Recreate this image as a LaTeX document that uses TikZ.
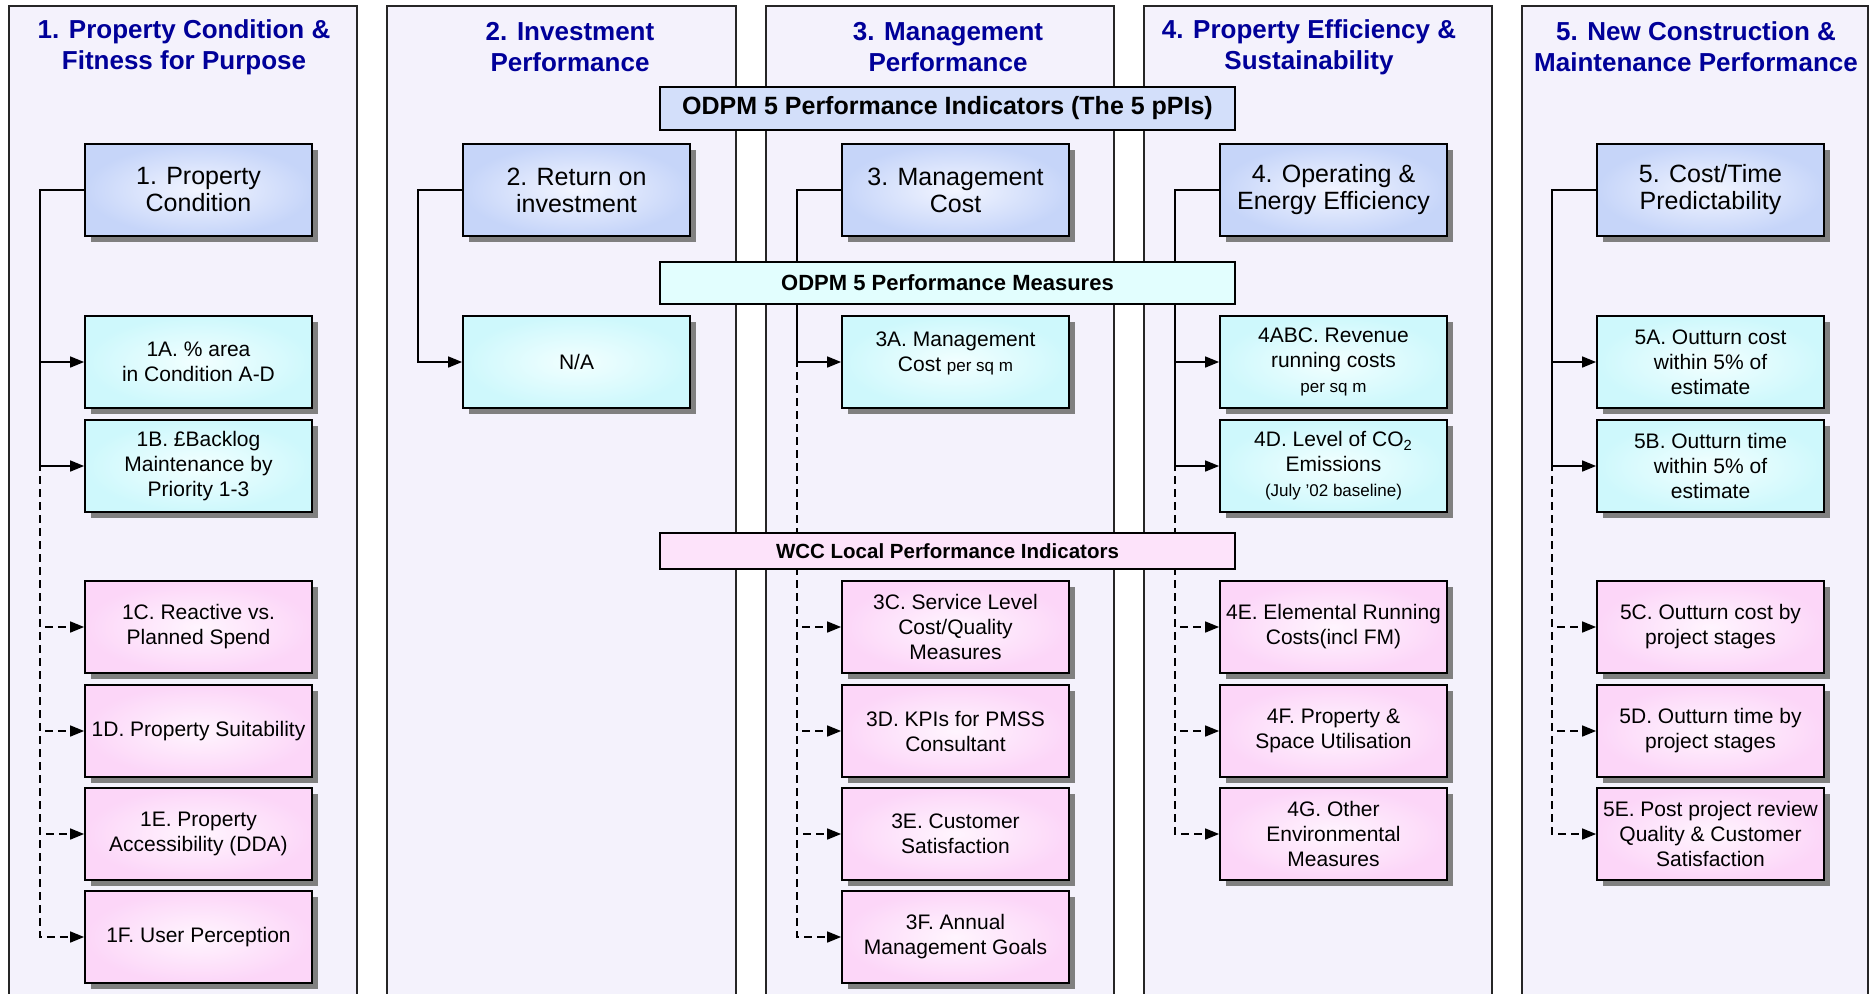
\documentclass[tikz,border=0pt]{standalone}
\usepackage{fontspec}
\setmainfont{Liberation Sans}
\usetikzlibrary{arrows.meta,shadows}
\definecolor{panelfill}{RGB}{244,242,252}
\definecolor{titleblue}{RGB}{0,0,153}
\definecolor{piout}{RGB}{198,213,249}
\definecolor{piin}{RGB}{242,245,255}
\definecolor{measout}{RGB}{206,248,252}
\definecolor{measin}{RGB}{242,255,255}
\definecolor{locout}{RGB}{252,214,248}
\definecolor{locin}{RGB}{255,245,254}
\definecolor{bandpi}{RGB}{211,223,250}
\definecolor{bandmeas}{RGB}{226,254,254}
\definecolor{bandloc}{RGB}{253,227,250}
\tikzset{
  panel/.style={draw=black!85, line width=0.8pt, fill=panelfill},
  paneltitle/.style={text=titleblue, align=center, font=\fontsize{13}{15.5}\selectfont\bfseries},
  kpibox/.style={draw=black, line width=0.9pt, minimum width=113.5pt, minimum height=46pt,
    inner sep=1pt, align=center, font=\fontsize{10.5}{12.5}\selectfont,
    drop shadow={shadow xshift=3pt, shadow yshift=-3pt, fill=black!50, opacity=1}},
  pibox/.style={kpibox, inner color=piin, outer color=piout, font=\fontsize{12.5}{13.5}\selectfont},
  measbox/.style={kpibox, inner color=measin, outer color=measout},
  localbox/.style={kpibox, inner color=locin, outer color=locout},
  bandbox/.style={draw=black, line width=0.8pt, minimum width=287.5pt, inner sep=1pt},
  link/.style={line width=0.8pt, -{Triangle[length=7pt,width=5.5pt]}},
  dlink/.style={link, dash pattern=on 4pt off 2.5pt}
}
\newcommand{\persqm}{\fontsize{8.5}{10}\selectfont}
\begin{document}
\begin{tikzpicture}[x=0.5pt, y=-0.5pt]
      \useasboundingbox (0,0) rectangle (1870,993);
      \clip (0,0) rectangle (1870,993);
      \fill[white] (0,0) rectangle (1870,993);
      \draw[panel] (9,6) rectangle (357,1010);
      \draw[panel] (387,6) rectangle (736,1010);
      \draw[panel] (766,6) rectangle (1114,1010);
      \draw[panel] (1144,6) rectangle (1492,1010);
      \draw[panel] (1522,6) rectangle (1868,1010);
      \node[paneltitle] (t1) at (184,47) {1. Property Condition \&\\Fitness for Purpose};
      \node[paneltitle] (t2) at (570,47) {2. Investment\\Performance};
      \node[paneltitle] (t3) at (948,47) {3. Management\\Performance};
      \node[paneltitle] (t4) at (1309,47) {4. Property Efficiency \&\\Sustainability};
      \node[paneltitle] (t5) at (1696,47) {5. New Construction \&\\Maintenance Performance};

      \node[pibox] (pi1) at (198.5,190) {1. Property\\Condition};
      \node[pibox] (pi2) at (576.5,190) {2. Return on\\investment};
      \node[pibox] (pi3) at (955.5,190) {3. Management\\Cost};
      \node[pibox] (pi4) at (1333.5,190) {4. Operating \&\\Energy Efficiency};
      \node[pibox] (pi5) at (1710.5,190) {5. Cost/Time\\Predictability};

      \node[measbox] (m1a) at (198.5,362) {1A. \% area\\in Condition A-D};
      \node[measbox] (m1b) at (198.5,466) {1B. £Backlog\\Maintenance by\\Priority 1-3};
      \node[measbox] (na2) at (576.5,362) {N/A};
      \node[measbox] (m3a) at (955.5,362) {3A. Management\\Cost {\persqm per sq m}\\[-2pt]};
      \node[measbox] (m4abc) at (1333.5,362) {4ABC. Revenue\\running costs\\{\persqm per sq m}};
      \node[measbox] (m4d) at (1333.5,466) {4D. Level of CO\textsubscript{2}\\Emissions\\{\persqm (July '02 baseline)}};
      \node[measbox] (m5a) at (1710.5,362) {5A. Outturn cost\\within 5\% of\\estimate};
      \node[measbox] (m5b) at (1710.5,466) {5B. Outturn time\\within 5\% of\\estimate};

      \node[localbox] (w1c) at (198.5,627) {1C. Reactive vs.\\Planned Spend};
      \node[localbox] (w1d) at (198.5,731) {1D. Property Suitability};
      \node[localbox] (w1e) at (198.5,834) {1E. Property\\Accessibility (DDA)};
      \node[localbox] (w1f) at (198.5,937) {1F. User Perception};
      \node[localbox] (w3c) at (955.5,627) {3C. Service Level\\Cost/Quality\\Measures};
      \node[localbox] (w3d) at (955.5,731) {3D. KPIs for PMSS\\Consultant};
      \node[localbox] (w3e) at (955.5,834) {3E. Customer\\Satisfaction};
      \node[localbox] (w3f) at (955.5,937) {3F. Annual\\Management Goals};
      \node[localbox] (w4e) at (1333.5,627) {4E. Elemental Running\\Costs(incl FM)};
      \node[localbox] (w4f) at (1333.5,731) {4F. Property \&\\Space Utilisation};
      \node[localbox] (w4g) at (1333.5,834) {4G. Other\\Environmental\\Measures};
      \node[localbox] (w5c) at (1710.5,627) {5C. Outturn cost by\\project stages};
      \node[localbox] (w5d) at (1710.5,731) {5D. Outturn time by\\project stages};
      \node[localbox] (w5e) at (1710.5,834) {5E. Post project review\\Quality \& Customer\\Satisfaction};

      \coordinate (j1) at (40,190);
      \coordinate (j2) at (418,190);
      \coordinate (j3) at (797,190);
      \coordinate (j4) at (1175,190);
      \coordinate (j5) at (1552,190);

      \draw[link] (pi1.west) -- (j1) |- (m1a.west);
      \draw[link] (j1) |- (m1b.west);
      \draw[dlink] (j1) |- (w1c.west);
      \draw[dlink] (j1) |- (w1d.west);
      \draw[dlink] (j1) |- (w1e.west);
      \draw[dlink] (j1) |- (w1f.west);

      \draw[link] (pi2.west) -- (j2) |- (na2.west);

      \draw[link] (pi3.west) -- (j3) |- (m3a.west);
      \draw[dlink] (j3) |- (w3c.west);
      \draw[dlink] (j3) |- (w3d.west);
      \draw[dlink] (j3) |- (w3e.west);
      \draw[dlink] (j3) |- (w3f.west);

      \draw[link] (pi4.west) -- (j4) |- (m4abc.west);
      \draw[link] (j4) |- (m4d.west);
      \draw[dlink] (j4) |- (w4e.west);
      \draw[dlink] (j4) |- (w4f.west);
      \draw[dlink] (j4) |- (w4g.west);

      \draw[link] (pi5.west) -- (j5) |- (m5a.west);
      \draw[link] (j5) |- (m5b.west);
      \draw[dlink] (j5) |- (w5c.west);
      \draw[dlink] (j5) |- (w5d.west);
      \draw[dlink] (j5) |- (w5e.west);

      \node[bandbox, fill=bandpi, minimum height=21.5pt, font=\fontsize{12.5}{14}\selectfont\bfseries] (bpi) at (947.5,108.5) {ODPM 5 Performance Indicators (The 5 pPIs)};
      \node[bandbox, fill=bandmeas, minimum height=21pt, font=\fontsize{11}{13}\selectfont\bfseries] (bmeas) at (947.5,283) {ODPM 5 Performance Measures};
      \node[bandbox, fill=bandloc, minimum height=18pt, font=\fontsize{10.25}{12}\selectfont\bfseries] (bloc) at (947.5,551) {WCC Local Performance Indicators};
\end{tikzpicture}
\end{document}
